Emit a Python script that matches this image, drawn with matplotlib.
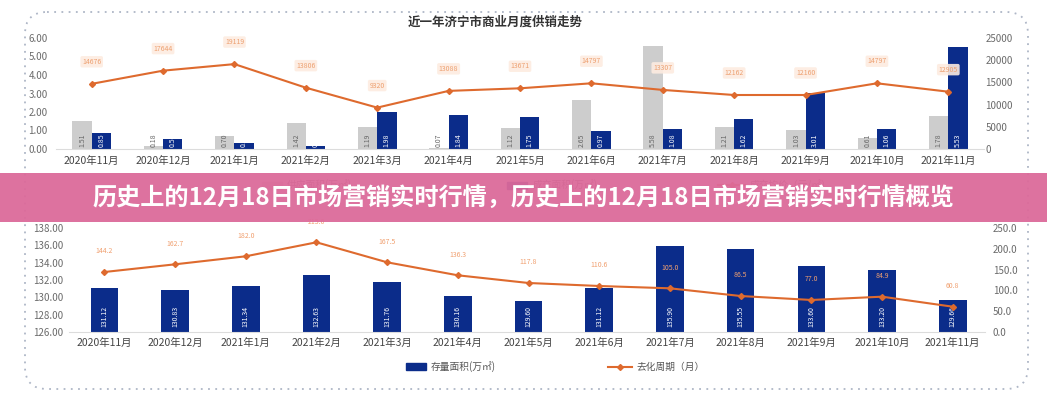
import matplotlib
matplotlib.use("Agg")
import matplotlib.pyplot as plt
from matplotlib.patches import FancyBboxPatch, Rectangle
from matplotlib.lines import Line2D
import numpy as np

plt.rcParams['font.family'] = ['Noto Sans CJK SC', 'DejaVu Sans']

# ---------------- data ----------------
months = ['2020年11月', '2020年12月', '2021年1月', '2021年2月', '2021年3月', '2021年4月',
          '2021年5月', '2021年6月', '2021年7月', '2021年8月', '2021年9月', '2021年10月', '2021年11月']

supply_area = [1.51, 0.18, 0.70, 1.42, 1.19, 0.07, 1.12, 2.65, 5.58, 1.21, 1.03, 0.61, 1.78]
deal_area = [0.85, 0.56, 0.34, 0.16, 1.98, 1.84, 1.75, 0.97, 1.08, 1.62, 3.01, 1.06, 5.53]
deal_price = [14676, 17644, 19119, 13806, 9320, 13088, 13671, 14797, 13307, 12162, 12160, 14797, 12905]

stock_area = [131.12, 130.83, 131.34, 132.63, 131.76, 130.16, 129.60, 131.12, 135.90, 135.55, 133.60, 133.20, 129.66]
cycle_months = [144.2, 162.7, 182.0, 215.6, 167.5, 136.3, 117.8, 110.6, 105.0, 86.5, 77.0, 84.9, 60.8]

top_title = '近一年济宁市商业月度供销走势'
top_legend = ['供应面积(万㎡)', '成交面积(万㎡)', '成交均价（元/㎡）']
bottom_legend = ['存量面积(万㎡)', '去化周期（月）']
banner_text = '历史上的12月18日市场营销实时行情，历史上的12月18日市场营销实时行情概览'

left_ticks_top = [0, 1, 2, 3, 4, 5, 6]
right_ticks_top = [0, 5000, 10000, 15000, 20000, 25000]
left_ticks_bot = [126, 128, 130, 132, 134, 136, 138]
right_ticks_bot = [0, 50, 100, 150, 200, 250]

# ---------------- style ----------------
GRAY = '#cdcdcd'
NAVY = '#0b2c8a'
ORANGE = '#de6a2e'
TICK = '#6b6b6b'
W, H = 1047, 400

fig = plt.figure(figsize=(W / 100, H / 100), dpi=100)
fig.patch.set_facecolor('white')

# overlay axes in pixel coordinates (background layer)
bg = fig.add_axes([0, 0, 1, 1], zorder=0)
bg.set_xlim(0, W)
bg.set_ylim(H, 0)
bg.axis('off')
frame = FancyBboxPatch((25, 12), 1003, 377, boxstyle='round,pad=0,rounding_size=22',
                       fill=False, edgecolor='#aeb6c6', linestyle=(0, (1, 3)), linewidth=1.3)
bg.add_patch(frame)

x = np.arange(len(months))


def style_axes(ax, axr):
    for a in (ax, axr):
        for s in ['top', 'left', 'right', 'bottom']:
            a.spines[s].set_visible(False)
        a.tick_params(length=0, colors=TICK, labelsize=7)
        a.patch.set_alpha(0)
    ax.spines['bottom'].set_visible(True)
    ax.spines['bottom'].set_color('#dcdcdc')


# ---------------- top chart ----------------
ax1 = fig.add_axes([56 / W, 1 - 149 / H, 928 / W, 111 / H], zorder=2)
ax1r = ax1.twinx()
style_axes(ax1, ax1r)
bw = 0.27
ax1.bar(x - bw / 2, supply_area, bw, color=GRAY, zorder=2)
ax1.bar(x + bw / 2, deal_area, bw, color=NAVY, zorder=2)
for i in range(len(x)):
    ax1.text(x[i] - bw / 2, 0.12, f'{supply_area[i]:.2f}', rotation=90, ha='center', va='bottom',
             fontsize=5, color='#666666', zorder=3)
    ax1.text(x[i] + bw / 2, 0.12, f'{deal_area[i]:.2f}', rotation=90, ha='center', va='bottom',
             fontsize=5, color='white', zorder=3)
ax1.set_xlim(-0.5, 12.5)
ax1.set_ylim(0, 6)
ax1.set_yticks(left_ticks_top)
ax1.set_yticklabels([f'{v:.2f}' for v in left_ticks_top])
ax1.tick_params(axis='y', pad=6)
ax1.set_xticks(x)
ax1.set_xticklabels(months, fontsize=7.5, color='#444444')
ax1.tick_params(axis='x', pad=5)

ax1r.plot(x, deal_price, color=ORANGE, lw=1.5, marker='D', ms=3, zorder=4)
for i in range(len(x)):
    ax1r.annotate(f'{deal_price[i]}', (x[i], deal_price[i]), xytext=(0, 13), textcoords='offset points',
                  ha='center', va='bottom', fontsize=5, color='#eda070',
                  bbox=dict(boxstyle='round,pad=0.25', fc='#fdece0', ec='none', alpha=0.9))
ax1r.set_ylim(0, 25000)
ax1r.set_yticks(right_ticks_top)
ax1r.set_yticklabels([str(v) for v in right_ticks_top])
ax1r.tick_params(axis='y', pad=1)

fig.text(495 / W, 1 - 22 / H, top_title, ha='center', va='center', fontsize=9,
         fontweight='bold', color='#333333')

# top legend (mostly hidden beneath the banner)
bg.add_patch(Rectangle((262, 182), 20, 7, color=GRAY))
bg.text(287, 185, top_legend[0], fontsize=7, va='center', color='#555555')
bg.add_patch(Rectangle((507, 182), 20, 7, color=NAVY))
bg.text(533, 185, top_legend[1], fontsize=7, va='center', color='#555555')
bg.add_line(Line2D([718, 745], [185, 185], color=ORANGE, lw=1.5))
bg.plot([731.5], [185], marker='D', ms=3, color=ORANGE)
bg.text(750, 185, top_legend[2], fontsize=7, va='center', color='#555555')

# ---------------- bottom chart ----------------
ax2 = fig.add_axes([69 / W, 1 - 332 / H, 915.6 / W, 104 / H], zorder=2)
ax2r = ax2.twinx()
style_axes(ax2, ax2r)
bw2 = 0.39
ax2.bar(x, [v - 126 for v in stock_area], bw2, bottom=126, color=NAVY, zorder=2)
for i in range(len(x)):
    ax2.text(x[i], 126.6, f'{stock_area[i]:.2f}', rotation=90, ha='center', va='bottom',
             fontsize=5, color='white', zorder=3)
ax2.set_xlim(-0.5, 12.45)
ax2.set_ylim(126, 138)
ax2.set_yticks(left_ticks_bot)
ax2.set_yticklabels([f'{v:.2f}' for v in left_ticks_bot])
ax2.tick_params(axis='y', pad=4)
ax2.set_xticks(x)
ax2.set_xticklabels(months, fontsize=7.5, color='#444444')
ax2.tick_params(axis='x', pad=4)

ax2r.plot(x, cycle_months, color=ORANGE, lw=1.5, marker='D', ms=3, zorder=4)
for i in range(len(x)):
    ax2r.annotate(f'{cycle_months[i]:.1f}', (x[i], cycle_months[i]), xytext=(0, 12),
                  textcoords='offset points', ha='center', va='bottom', fontsize=5,
                  color='#f0a070')
ax2r.set_ylim(0, 250)
ax2r.set_yticks(right_ticks_bot)
ax2r.set_yticklabels([f'{v:.1f}' for v in right_ticks_bot])
ax2r.tick_params(axis='y', pad=6)

# bottom legend
bg.add_patch(Rectangle((406, 363), 20, 7, color=NAVY))
bg.text(431, 367, bottom_legend[0], fontsize=7, va='center', color='#555555')
bg.add_line(Line2D([608, 632], [367, 367], color=ORANGE, lw=1.5))
bg.plot([620], [367], marker='D', ms=3, color=ORANGE)
bg.text(636, 367, bottom_legend[1], fontsize=7, va='center', color='#555555')

# ---------------- banner ----------------
top = fig.add_axes([0, 0, 1, 1], zorder=10)
top.set_xlim(0, W)
top.set_ylim(H, 0)
top.axis('off')
top.add_patch(Rectangle((0, 173), W, 49, color='#dc6a9a', alpha=0.95, lw=0))
top.text(W / 2, 198, banner_text, ha='center', va='center', fontsize=17.4,
         fontweight='bold', color='white')

fig.savefig('out.png', dpi=100)
